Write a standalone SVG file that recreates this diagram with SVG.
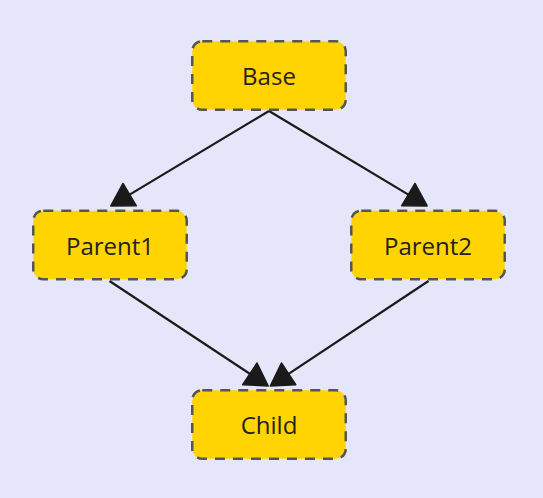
<svg xmlns="http://www.w3.org/2000/svg" width="543" height="498" viewBox="0 0 543 498">
<style>
.node rect{fill:#FFD400;stroke:#555;stroke-width:2.5;stroke-dasharray:10 8;}
.node text{font-family:"Open Sans","Noto Sans",sans-serif;font-size:24px;fill:#222;text-anchor:middle;}
.edge{fill:none;stroke:#1a1a1a;stroke-width:2.2;}
</style>
<defs>
<marker id="arrow" viewBox="-2 -2 26 30" refX="19" refY="13" markerWidth="26" markerHeight="30" markerUnits="userSpaceOnUse" orient="auto">
<path d="M0 0 L22 13 L0 26 z" fill="#1a1a1a" stroke="#1a1a1a" stroke-width="1.5" stroke-linejoin="round"/>
</marker>
</defs>
<rect width="543" height="498" fill="#E6E6FA"/>
<g id="connectors">
<line class="edge" x1="269" y1="111" x2="113.4" y2="204.4" marker-end="url(#arrow)"/>
<line class="edge" x1="269" y1="111" x2="424.6" y2="204.4" marker-end="url(#arrow)"/>
<line class="edge" x1="109.5" y1="281" x2="265.7" y2="384.3" marker-end="url(#arrow)"/>
<line class="edge" x1="428.5" y1="281" x2="272.8" y2="384.3" marker-end="url(#arrow)"/>
</g>
<g id="Base" class="node">
<rect x="192.25" y="41.25" width="153.5" height="68.5" rx="10"/>
<text x="269" y="85">Base</text>
</g>
<g id="Parent1" class="node">
<rect x="33.25" y="210.75" width="153.5" height="68.5" rx="10"/>
<text x="110" y="254.5">Parent1</text>
</g>
<g id="Parent2" class="node">
<rect x="351.25" y="210.75" width="153.5" height="68.5" rx="10"/>
<text x="428" y="254.5">Parent2</text>
</g>
<g id="Child" class="node">
<rect x="192.25" y="390.25" width="153.5" height="68.5" rx="10"/>
<text x="269" y="434">Child</text>
</g>
</svg>
